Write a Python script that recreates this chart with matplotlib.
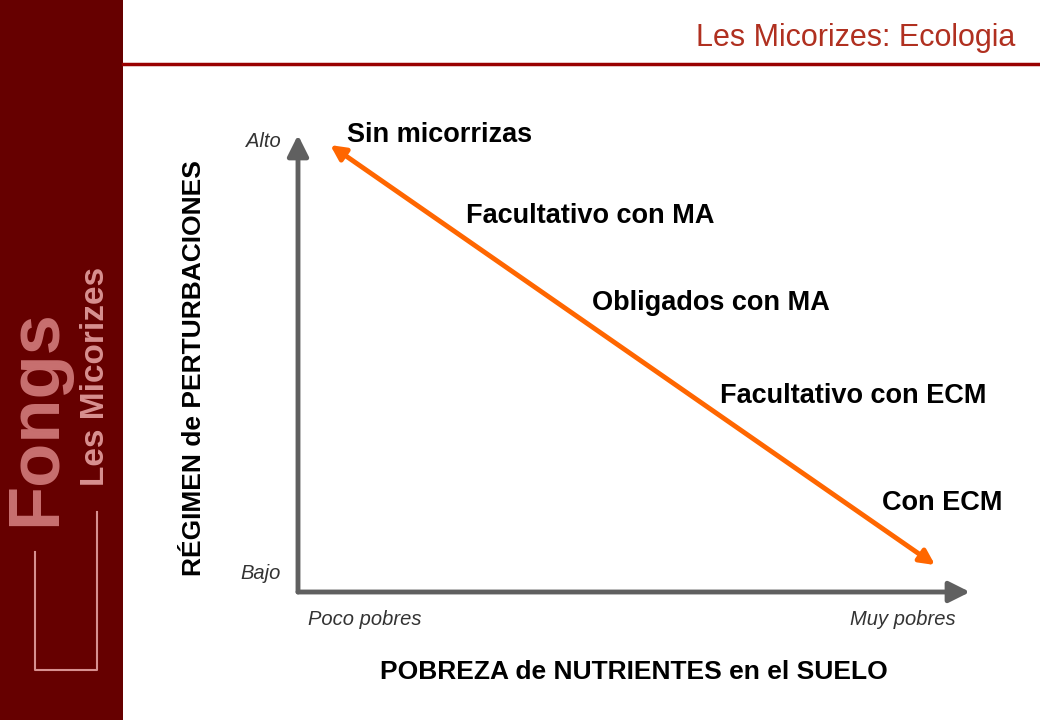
import matplotlib
matplotlib.use('agg')
import matplotlib.pyplot as plt
from matplotlib.lines import Line2D
from matplotlib.patches import Rectangle
from matplotlib import font_manager

W, H = 1040, 720

# data (chart units 0..1)
labels = ["Sin micorrizas", "Facultativo con MA", "Obligados con MA",
          "Facultativo con ECM", "Con ECM"]
label_x = [0.073, 0.25, 0.4375, 0.628, 0.869]
label_y = [1.0, 0.823, 0.632, 0.429, 0.195]
arrow_start = (0.948, 0.059)
arrow_end = (0.048, 0.978)
xticks = ["Poco pobres", "Muy pobres"]
yticks = ["Bajo", "Alto"]

names = {f.name for f in font_manager.fontManager.ttflist}
def pick(*cands):
    for c in cands:
        if c in names:
            return c
    return 'DejaVu Sans'
sans = pick('Liberation Sans', 'Arial', 'Roboto')

fig = plt.figure(figsize=(W / 100, H / 100), dpi=100)
fig.patch.set_facecolor('white')

def fx(px): return px / W
def fy(py): return 1 - py / H

# sidebar
fig.patches.append(Rectangle((0, 0), fx(123), 1, transform=fig.transFigure,
                             facecolor='#660000', edgecolor='none'))
fig.text(fx(36), fy(418), "Fongs", rotation=90, ha='center', va='center',
         color='#c87070', fontsize=52, fontweight='bold', family=sans)
fig.text(fx(96), fy(376), "Les Micorizes", rotation=90, ha='center', va='center',
         color='#d89090', fontsize=24, fontweight='bold', family=sans)
fig.lines.append(Line2D([fx(35), fx(35), fx(97), fx(97)],
                        [fy(552), fy(670), fy(670), fy(512)],
                        transform=fig.transFigure, color='#d89090', lw=1.5))

# header
fig.lines.append(Line2D([fx(123), 1], [fy(64), fy(64)], transform=fig.transFigure,
                        color='#990000', lw=2.5))
fig.text(fx(1015), fy(38), "Les Micorizes: Ecologia", ha='right', va='center',
         color='#b03020', fontsize=22, family=sans)

# chart
ax = fig.add_axes([fx(298), fy(592), (970 - 298) / W, (592 - 135) / H])
ax.set_xlim(0, 1)
ax.set_ylim(0, 1)
ax.axis('off')
gray = '#606060'
for tip in [(1.0, 0), (0, 1.0)]:
    ax.annotate('', xy=tip, xytext=(0, 0),
                arrowprops=dict(arrowstyle='-|>,head_length=0.7,head_width=0.35',
                                color=gray, lw=3.5, mutation_scale=18,
                                shrinkA=0, shrinkB=0), annotation_clip=False)
ax.annotate('', xy=arrow_end, xytext=arrow_start,
            arrowprops=dict(arrowstyle='<|-|>', color='#ff6600', lw=3.5,
                            mutation_scale=22, shrinkA=0, shrinkB=0))

for t, x, y in zip(labels, label_x, label_y):
    ax.text(x, y, t, ha='left', va='center', fontsize=19.5, fontweight='bold',
            family=sans, color='black')

tk = dict(style='italic', fontsize=14.5, family=sans, color='#333333', va='center')
ax.text(0.1, -0.06, xticks[0], ha='center', **tk)
ax.text(0.9, -0.06, xticks[1], ha='center', **tk)
ax.text(-0.025, 0.04, yticks[0], ha='right', **tk)
ax.text(-0.025, 0.985, yticks[1], ha='right', **tk)
ax.text(0.5, -0.175, "POBREZA de NUTRIENTES en el SUELO", ha='center', va='center',
        fontsize=19, fontweight='bold', family=sans)
ax.text(-0.155, 0.49, "RÉGIMEN de PERTURBACIONES", ha='center', va='center',
        rotation=90, fontsize=19, fontweight='bold', family=sans)

fig.savefig('out.png', dpi=100, facecolor='white')
